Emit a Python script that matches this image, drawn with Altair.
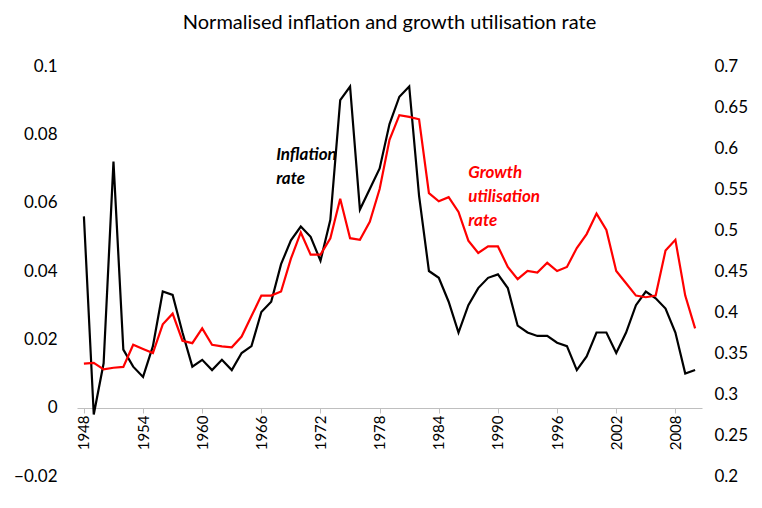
import altair as alt
import pandas as pd

years = list(range(1948, 2011))
inflation = [0.056, -0.002, 0.013, 0.072, 0.017, 0.012, 0.009, 0.018, 0.034, 0.033,
             0.022, 0.012, 0.014, 0.011, 0.014, 0.011, 0.016, 0.018, 0.028, 0.031,
             0.042, 0.049, 0.053, 0.050, 0.043, 0.055, 0.090, 0.094, 0.058, 0.064,
             0.070, 0.083, 0.091, 0.094, 0.062, 0.040, 0.038, 0.031, 0.022, 0.030,
             0.035, 0.038, 0.039, 0.035, 0.024, 0.022, 0.021, 0.021, 0.019, 0.018,
             0.011, 0.015, 0.022, 0.022, 0.016, 0.022, 0.030, 0.034, 0.032, 0.029,
             0.022, 0.010, 0.011]
growth = [0.337, 0.338, 0.330, 0.332, 0.333, 0.360, 0.355, 0.350, 0.385, 0.398,
          0.365, 0.362, 0.380, 0.360, 0.358, 0.357, 0.370, 0.395, 0.420, 0.420,
          0.425, 0.465, 0.497, 0.470, 0.470, 0.490, 0.538, 0.490, 0.488, 0.510,
          0.550, 0.610, 0.640, 0.638, 0.635, 0.545, 0.535, 0.540, 0.522, 0.487,
          0.472, 0.480, 0.480, 0.455, 0.440, 0.450, 0.448, 0.460, 0.450, 0.455,
          0.478, 0.495, 0.520, 0.500, 0.450, 0.435, 0.420, 0.418, 0.420, 0.475,
          0.488, 0.420, 0.380]
tick_years = list(range(1948, 2011, 3))

df = pd.DataFrame({"year": years, "inflation": inflation, "growth": growth})
FONT = "Lato"

x = alt.X("year:Q", scale=alt.Scale(domain=[1947.3, 2010.7], nice=False),
          axis=alt.Axis(values=tick_years, format="d", labelAngle=-90, offset=-68,
                        grid=False, domainColor="#bfbfbf", tickColor="#bfbfbf",
                        labelOverlap=False, labelFontSize=15, labelFont=FONT,
                        labelColor="black", title=None))

infl = alt.Chart(df).mark_line(color="black", strokeWidth=2.2).encode(
    x=x,
    y=alt.Y("inflation:Q", scale=alt.Scale(domain=[-0.02, 0.1], nice=False),
            axis=alt.Axis(values=[-0.02, 0, 0.02, 0.04, 0.06, 0.08, 0.1], format="~g",
                          grid=False, domain=False, ticks=False, labelFontSize=17,
                          labelFont=FONT, labelColor="black", labelPadding=20, title=None))
)
infl_lab = alt.Chart(pd.DataFrame({"year": [1967.5], "inflation": [0.074],
                                   "t": [["Inflation", "rate"]]})).mark_text(
    align="left", fontStyle="italic", fontWeight="bold", fontSize=17, font=FONT,
    color="black", lineHeight=24).encode(x="year:Q", y="inflation:Q", text="t")

grow = alt.Chart(df).mark_line(color="#ff0000", strokeWidth=2.2).encode(
    x="year:Q",
    y=alt.Y("growth:Q", scale=alt.Scale(domain=[0.2, 0.7], nice=False),
            axis=alt.Axis(orient="right", values=[0.2, 0.25, 0.3, 0.35, 0.4, 0.45, 0.5, 0.55, 0.6, 0.65, 0.7],
                          format="~g", grid=False, domain=False, ticks=False, labelFontSize=17,
                          labelFont=FONT, labelColor="black", labelPadding=12, title=None))
)
grow_lab = alt.Chart(pd.DataFrame({"year": [1987], "growth": [0.57],
                                   "t": [["Growth", "utilisation", "rate"]]})).mark_text(
    align="left", fontStyle="italic", fontWeight="bold", fontSize=17, font=FONT,
    color="#ff0000", lineHeight=24).encode(x="year:Q", y="growth:Q", text="t")

chart = alt.layer(alt.layer(infl, infl_lab), alt.layer(grow, grow_lab)).resolve_scale(
    y="independent"
).properties(
    width=625, height=410,
    title=alt.TitleParams("Normalised inflation and growth utilisation rate",
                          fontSize=20, font=FONT, fontWeight="normal", offset=24)
).configure_view(stroke=None)

chart.save("out.html", embed_options={"renderer": "svg", "actions": False})
